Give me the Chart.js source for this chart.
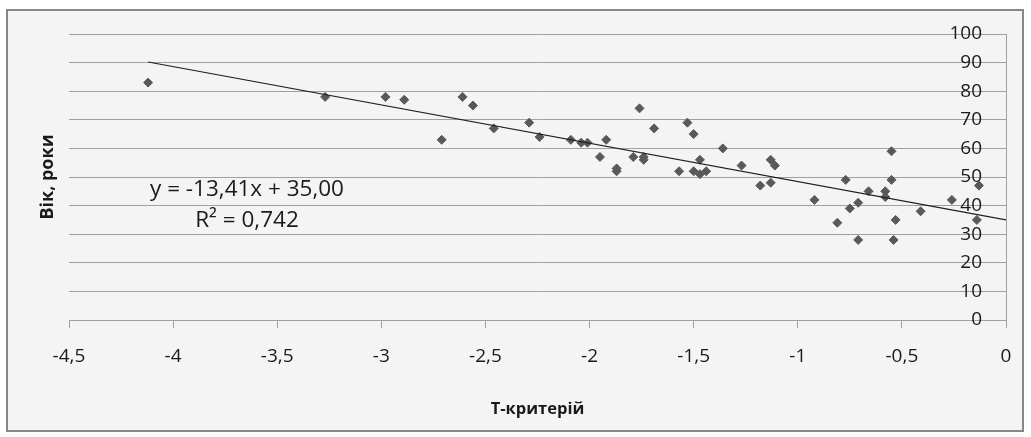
<!DOCTYPE html>
<html>
<head>
<meta charset="utf-8">
<script src="https://cdn.jsdelivr.net/npm/chart.js@4"></script>
<style>
  html, body { margin: 0; padding: 0; background: #ffffff; }
  #frame {
    position: absolute; left: 6px; top: 9px;
    width: 1018px; height: 423px; box-sizing: border-box;
    border: 2px solid #878787; background: #f4f4f4;
  }
  #chart { position: absolute; left: 0; top: 0; }
</style>
</head>
<body>
<div id="frame"></div>
<canvas id="chart" width="1031" height="437"></canvas>
<script>
// T-критерій values and ages
const tValues = [-4.12, -3.27, -2.98, -2.89, -2.71, -2.61, -2.56, -2.46, -2.29, -2.24,
                 -2.09, -2.04, -2.01, -1.95, -1.92, -1.87, -1.87, -1.79, -1.76, -1.74,
                 -1.74, -1.69, -1.57, -1.53, -1.50, -1.47, -1.50, -1.47, -1.44, -1.36,
                 -1.27, -1.18, -1.13, -1.13, -1.11, -0.92, -0.81, -0.77, -0.75, -0.71,
                 -0.71, -0.66, -0.58, -0.58, -0.55, -0.55, -0.54, -0.53, -0.41, -0.26,
                 -0.13, -0.14];
const ages = [83, 78, 78, 77, 63, 78, 75, 67, 69, 64,
              63, 62, 62, 57, 63, 53, 52, 57, 74, 57,
              56, 67, 52, 69, 65, 56, 52, 51, 52, 60,
              54, 47, 48, 56, 54, 42, 34, 49, 39, 41,
              28, 45, 45, 43, 59, 49, 28, 35, 38, 42,
              47, 35];

// linear trend line end points
const trendT = [-4.12, 0];
const trendAge = [90.2, 35.0];

const equationLines = ['y = -13,41x + 35,00', 'R² = 0,742'];

const xMin = -4.5, xMax = 0, xStep = 0.5;
const yMin = 0, yMax = 100, yStep = 10;

const FONT = "'Open Sans', 'Noto Sans', sans-serif";
const gridGray = '#a0a0a0';

function toComma(v) {
    return String(Math.round(v * 10) / 10).replace('.', ',');
}

const equationPlugin = {
    id: 'equation',
    afterDatasetsDraw(chart) {
        const c = chart.ctx;
        c.save();
        c.fillStyle = '#1a1a1a';
        c.font = '22.5px ' + FONT;
        c.textAlign = 'center';
        c.textBaseline = 'middle';
        c.fillText(equationLines[0], 247, 190);
        c.fillText(equationLines[1], 247, 221);
        c.restore();
    }
};

const ctx = document.getElementById('chart').getContext('2d');

new Chart(ctx, {
    type: 'scatter',
    data: {
        datasets: [
            {
                type: 'line',
                label: 'trend',
                data: trendT.map((t, i) => ({ x: t, y: trendAge[i] })),
                borderColor: '#1e1e1e',
                borderWidth: 1.2,
                pointRadius: 0,
                fill: false,
                order: 0,
            },
            {
                label: 'Вік',
                data: tValues.map((t, i) => ({ x: t, y: ages[i] })),
                pointStyle: 'rectRot',
                pointRadius: 4.5,
                backgroundColor: '#595959',
                borderColor: '#595959',
                borderWidth: 1,
                order: 1,
            },
        ],
    },
    options: {
        responsive: false,
        animation: false,
        devicePixelRatio: 1,
        layout: { padding: { left: 0, right: 25, top: 34, bottom: 0 } },
        plugins: {
            legend: { display: false },
            tooltip: { enabled: false },
        },
        scales: {
            x: {
                type: 'linear',
                position: 'bottom',
                min: xMin,
                max: xMax,
                ticks: {
                    stepSize: xStep,
                    padding: 17.6,
                    color: '#1a1a1a',
                    font: { family: FONT, size: 19 },
                    callback: (v) => toComma(v),
                },
                grid: {
                    drawOnChartArea: false,
                    drawTicks: true,
                    tickLength: 8,
                    color: gridGray,
                    tickColor: gridGray,
                },
                border: { color: gridGray, width: 1 },
                title: {
                    display: true,
                    text: 'Т-критерій',
                    color: '#1a1a1a',
                    font: { family: FONT, size: 16.5, weight: 'bold' },
                    padding: { top: 0, bottom: 18 },
                },
                afterFit: (scale) => { scale.height = 117; },
            },
            y: {
                type: 'linear',
                position: 'right',
                min: yMin,
                max: yMax,
                ticks: {
                    stepSize: yStep,
                    mirror: true,
                    padding: -24,
                    color: '#1a1a1a',
                    font: { family: FONT, size: 19 },
                },
                grid: {
                    drawTicks: false,
                    color: gridGray,
                },
                border: { color: gridGray, width: 1 },
                afterFit: (scale) => { scale.width = 0; },
            },
            yTitle: {
                type: 'linear',
                position: 'left',
                min: yMin,
                max: yMax,
                ticks: { display: false },
                grid: { display: false },
                border: { display: false },
                title: {
                    display: true,
                    text: 'Вік, роки',
                    color: '#1a1a1a',
                    font: { family: FONT, size: 18, weight: 'bold' },
                    padding: { top: 37, bottom: 0 },
                },
                afterFit: (scale) => { scale.width = 69; },
            },
        },
    },
    plugins: [equationPlugin],
});
</script>
</body>
</html>
